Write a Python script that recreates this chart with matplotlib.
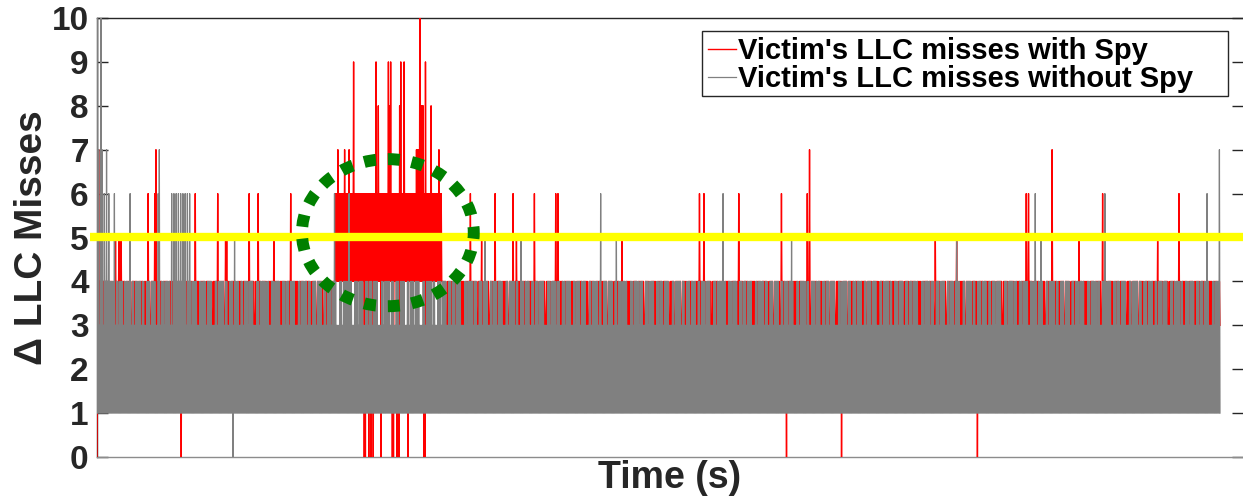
import numpy as np
import matplotlib.pyplot as plt
from matplotlib.patches import Ellipse, Rectangle

plt.rcParams['font.family'] = ['Liberation Sans', 'DejaVu Sans']
plt.rcParams['font.weight'] = 'bold'
plt.rcParams['path.simplify'] = False  # dense trace, keep every vertex

# time axis (arbitrary units), one sample every DT
T_END = 1000
DT = 0.5

# normal band of each trace: low level + repeating peak levels
gray_low = 1
gray_tops = [4, 4, 3, 4, 4, 3, 3, 4, 4, 4, 3, 4, 4, 4, 4, 3, 3, 4, 4, 3, 4,
             4, 4, 3, 4, 4, 4, 4, 3, 3, 3, 4, 4, 3, 4, 4, 4]
red_low = 3
red_tops = [4, 4, 4, 3, 4, 4, 4, 4, 3, 4, 4]

# spy burst: the red trace swings between 4 and 6 in this window
spy_window = (212, 307)
spy_levels = (4, 6)

# (time, value) of the isolated excursions
gray_spikes = [(0, 10), (3.5, 10), (1.5, 7), (4.5, 7), (8, 7), (6, 6), (10, 6),
               (15, 6), (29, 6), (54, 6), (55.5, 7), (66, 6), (68, 6), (70, 6),
               (72, 6), (74, 6), (76, 6), (78, 6), (80, 6), (82, 6), (121, 0),
               (122.5, 5), (211, 6), (224, 6), (345, 5), (377, 5), (448, 6),
               (462, 5), (557, 6), (618, 5), (765, 5), (835, 6), (840, 5),
               (897, 6), (988, 6), (999, 7)]
red_spikes = [(0, 0), (1, 7), (16, 5), (19, 5), (21, 5), (45, 6), (51, 6),
              (52.5, 7), (75, 0), (87, 6), (107, 6), (114, 5), (115.5, 5),
              (135, 6), (143, 6), (157, 5), (172, 6),
              (214, 7), (220, 7), (224.5, 7), (228, 9), (248, 9), (250, 8),
              (259, 9), (260, 8), (261, 9), (269, 8), (270, 9), (273, 9),
              (284, 7), (285, 7), (286, 7), (287, 10), (288, 8), (289, 8),
              (290, 8), (292, 9), (297, 8), (304, 7),
              (238, 0), (239, 0), (242, 0), (244, 0), (246, 0), (253, 0),
              (263, 0), (264, 0), (267, 0), (269.5, 0), (277, 0), (291, 0),
              (292.5, 0),
              (306, 6), (332, 6), (342, 5), (354, 6), (370, 6), (373, 5),
              (389, 6), (408, 6), (410, 6), (467, 5), (536, 6), (540, 6),
              (571, 6), (609, 6), (614, 0), (632, 6), (634, 7), (663, 0),
              (746, 5), (765.5, 5), (784, 0), (827, 6), (829, 6), (850, 7),
              (874, 5), (895, 6), (944, 5), (963, 6)]

labels = ["Victim's LLC misses with Spy", "Victim's LLC misses without Spy"]
threshold = 5

# build both traces from the values above
t = np.arange(0, T_END + DT / 2, DT)
n = len(t)
high = np.arange(n) % 2 == 1

gray = np.full(n, float(gray_low))
gray[high] = np.resize(gray_tops, high.sum())
red = np.full(n, float(red_low))
red[high] = np.resize(red_tops, high.sum())

spy = (t >= spy_window[0]) & (t <= spy_window[1])
red[spy & ~high] = spy_levels[0]
red[spy & high] = spy_levels[1]


def put(arr, spikes):
    for tt, v in spikes:
        i = int(round(tt / DT))
        # peaks sit on the "high" samples, drops on the "low" ones
        i = (i | 1) if v > 3 else (i & ~1)
        arr[min(i, n - 1)] = v


put(gray, gray_spikes)
put(red, red_spikes)

W, H = 1243, 497
fig = plt.figure(figsize=(W / 100, H / 100), dpi=100)
ax = fig.add_axes([97 / W, 1 - 457 / H, 1 - 97 / W, 439 / H])

l1, = ax.plot(t, red, color='#ff0000', lw=1.0, zorder=3)
l2, = ax.plot(t, gray, color='#808080', lw=0.9, zorder=3)

ax.plot([-6, 1021], [threshold, threshold], color='#ffff00', lw=6,
        solid_capstyle='butt', clip_on=False, zorder=4)

circ = Ellipse((259, 5.11), 153, 3.35, fill=False, edgecolor='#008000',
               lw=8.6, linestyle=(0, (1, 1.0)), capstyle='butt', zorder=5)
ax.add_patch(circ)

ax.set_xlim(0, 1020.5)
ax.set_ylim(0, 10)
ax.set_xticks([])
ax.set_yticks(range(0, 11))
ax.tick_params(axis='y', direction='in', length=8, width=1, left=True,
               right=True, labelsize=24, pad=6, color='#262626')
for lab in ax.get_yticklabels():
    lab.set_fontweight('bold')
    lab.set_color('#262626')

ax.spines['right'].set_visible(False)
ax.spines['top'].set_color('#262626')
ax.spines['left'].set_color('#262626')
ax.spines['bottom'].set_color('#8c8c8c')
for s in ax.spines.values():
    s.set_linewidth(1)
    s.set_zorder(2)

ax.set_ylabel('Δ LLC Misses', fontsize=28, fontweight='bold', color='#262626')
ax.yaxis.set_label_coords(-0.041, 0.5)
ax.set_xlabel('Time (s)', fontsize=27, fontweight='bold', color='#262626',
              labelpad=2)

# legend entries without their own frame; the box is drawn separately so it
# keeps the wide right margin of the original
leg = ax.legend([l1, l2], labels, loc='upper left',
                bbox_to_anchor=((702 - 97) / 1146, 1 - 13 / 439),
                borderaxespad=0, frameon=False, handlelength=0.95,
                handletextpad=0.08, labelspacing=0.0, borderpad=0.2,
                prop={'weight': 'bold', 'size': 21})
leg.set_zorder(7)
box = Rectangle((702 / W, 1 - 96 / H), (1228 - 702) / W, 65 / H,
                transform=fig.transFigure, facecolor='white',
                edgecolor='#262626', lw=1, zorder=6, clip_on=False)
ax.add_patch(box)

fig.savefig('out.png', dpi=100)
